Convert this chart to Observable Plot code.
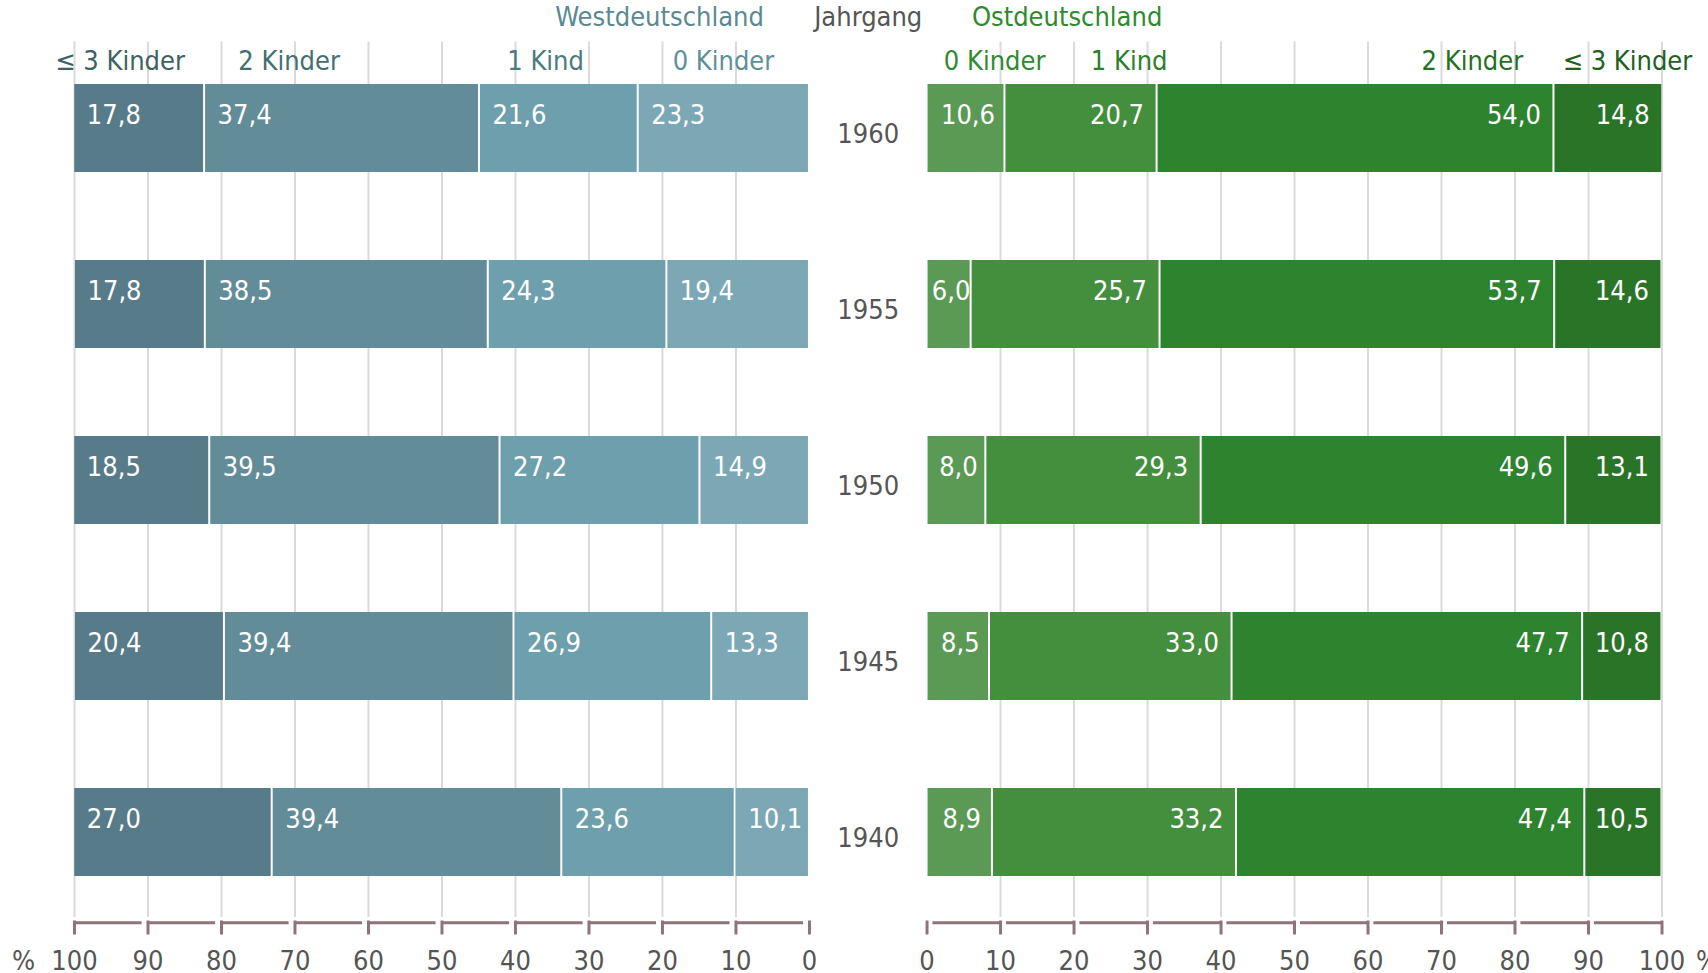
<!DOCTYPE html>
<html><head><meta charset="utf-8">
<script src="https://cdn.jsdelivr.net/npm/d3@7"></script>
<script src="https://cdn.jsdelivr.net/npm/@observablehq/plot@0.6"></script>
<style>
html,body{margin:0;padding:0;background:#fff;overflow:hidden;}
#chart svg{display:block;max-width:none;font-family:"DejaVu Sans Condensed","DejaVu Sans",sans-serif;font-stretch:condensed;}
</style></head><body><div id="chart"></div>
<script>
// ---- data ----
const years = [1960, 1955, 1950, 1945, 1940];
const categories = ["0 Kinder", "1 Kind", "2 Kinder", "≤ 3 Kinder"];
const west0 = [23.3, 19.4, 14.9, 13.3, 10.1];
const west1 = [21.6, 24.3, 27.2, 26.9, 23.6];
const west2 = [37.4, 38.5, 39.5, 39.4, 39.4];
const west3 = [17.8, 17.8, 18.5, 20.4, 27.0];
const east0 = [10.6, 6.0, 8.0, 8.5, 8.9];
const east1 = [20.7, 25.7, 29.3, 33.0, 33.2];
const east2 = [54.0, 53.7, 49.6, 47.7, 47.4];
const east3 = [14.8, 14.6, 13.1, 10.8, 10.5];
const tickValues = [0, 10, 20, 30, 40, 50, 60, 70, 80, 90, 100];
const regionTitles = ["Westdeutschland", "Ostdeutschland"];
const yearTitle = "Jahrgang";
const unitLabel = "%";
const westHeaderAt = [11.7, 35.9, 70.8, 93.8];
const eastHeaderAt = [9.2, 27.5, 74.2, 95.3];

// ---- styles ----
const westColors = ["#7ca8b5", "#6e9fac", "#638c99", "#577b88"];
const eastColors = ["#5a9a55", "#448f3e", "#2e832f", "#2a7428"];
const westHeadColors = ["#5e9098", "#4b7b7c", "#466f71", "#3e6263"];
const eastHeadColors = ["#2f8a2f", "#2a7f2a", "#256f25", "#1f601f"];
const titleColors = ["#5b8893", "#2e8a2e"];
const mauve = "#8f7378";
const gray = "#555555";
const grid = "#dadada";
const FS = 27;
const W = 1708, H = 973, MT = 39, MB = 52.5, ML = 74, MR = 46.5;
const GAP = 16;
const step = (H - MT - MB) / years.length;

const west = [west0, west1, west2, west3];
const east = [east0, east1, east2, east3];
const pos = (region, v) => region === "west" ? -v - GAP : v;
const fmt = v => v.toFixed(1).replace(".", ",");

const rows = [];
for (const [region, series] of [["west", west], ["east", east]]) {
  years.forEach((year, i) => {
    let acc = 0;
    series.forEach((s, k) => {
      rows.push({region, year, k, cat: categories[k], value: s[i], start: acc, end: acc + s[i], key: region + k});
      acc += s[i];
    });
  });
}
const colorDomain = [...categories.map((c, k) => "west" + k), ...categories.map((c, k) => "east" + k)];
const colorRange = [...westColors, ...eastColors];

const gridPos = [];
for (const r of ["west", "east"]) for (const t of tickValues) if (t > 0) gridPos.push(pos(r, t));
const zeroLines = [];
for (const r of ["west", "east"]) for (const y of years) zeroLines.push({region: r, year: y});
const tickPos = [];
for (const r of ["west", "east"]) for (const t of tickValues) tickPos.push({region: r, t, x: pos(r, t)});
const segs = [];
for (const r of ["west", "east"]) for (const t of tickValues) if (t > 0) segs.push({region: r, t});
const segGap = 0.8;

const txt = {fontSize: FS, lineAnchor: "middle"};
const LDY = -13;

const marks = [
  Plot.ruleX(gridPos, {x: d => d, stroke: grid, strokeWidth: 2, insetTop: 2.5, insetBottom: 3.5}),
  Plot.barX(rows, {x1: d => pos(d.region, d.start), x2: d => pos(d.region, d.end), y: "year", fill: "key", insetLeft: 1, insetRight: 1}),
  Plot.ruleX(zeroLines, {x: d => pos(d.region, 0), y: "year", stroke: mauve, strokeWidth: 2.5, insetTop: -(step * 0.25 - 3), insetBottom: -(step * 0.25 - 3)}),
  // value labels
  Plot.text(rows.filter(d => d.region === "west"), {...txt, x: d => pos("west", d.end), y: "year", text: d => fmt(d.value), textAnchor: "start", dx: 13, dy: LDY, fill: "white"}),
  Plot.text(rows.filter(d => d.region === "east" && d.k === 0), {...txt, x: d => pos("east", (d.start + d.end) / 2), y: "year", text: d => fmt(d.value), textAnchor: "middle", dx: 2, dy: LDY, fill: "white"}),
  Plot.text(rows.filter(d => d.region === "east" && d.k > 0), {...txt, x: d => pos("east", d.end), y: "year", text: d => fmt(d.value), textAnchor: "end", dx: -13, dy: LDY, fill: "white"}),
  // year labels
  Plot.text(years, {...txt, x: () => -GAP / 2, y: d => d, text: d => String(d), dy: 6, fill: gray}),
  // titles
  Plot.text([yearTitle], {...txt, x: () => -GAP / 2, frameAnchor: "top", dy: -22, fill: gray}),
  Plot.text([regionTitles[0]], {...txt, x: () => pos("west", 6.2), frameAnchor: "top", dy: -22, textAnchor: "end", fill: titleColors[0]}),
  Plot.text([regionTitles[1]], {...txt, x: () => pos("east", 6.1), frameAnchor: "top", dy: -22, textAnchor: "start", fill: titleColors[1]}),
  // category headers
  ...categories.map((c, k) => Plot.text([c], {...txt, x: () => pos("west", westHeaderAt[k]), frameAnchor: "top", dy: 22, fill: westHeadColors[k]})),
  ...categories.map((c, k) => Plot.text([c], {...txt, x: () => pos("east", eastHeaderAt[k]), frameAnchor: "top", dy: 22, fill: eastHeadColors[k]})),
  // bottom axis brackets
  Plot.axisX(tickPos.map(d => d.x), {anchor: "bottom", label: null, tickSize: 14, tickFormat: () => "", stroke: mauve, strokeWidth: 3}),
  Plot.ruleY(segs, {x1: d => pos(d.region, d.t - 10 + segGap), x2: d => pos(d.region, d.t), y: () => years[years.length - 1], dy: step / 2 + 2, stroke: mauve, strokeWidth: 3}),
  Plot.text(tickPos, {...txt, x: "x", text: d => String(d.t), frameAnchor: "bottom", dy: 40, fill: gray}),
  Plot.text([unitLabel], {...txt, x: () => pos("west", 100), frameAnchor: "bottom", dy: 40, dx: -51, fill: gray}),
  Plot.text([unitLabel], {...txt, x: () => pos("east", 100), frameAnchor: "bottom", dy: 40, dx: 34, textAnchor: "start", fill: gray})
];

const chart = Plot.plot({
  width: W, height: H,
  marginTop: MT, marginBottom: MB, marginLeft: ML, marginRight: MR,
  x: {domain: [-100 - GAP, 100], axis: null},
  y: {domain: years, paddingInner: 0.5, paddingOuter: 0.25, axis: null},
  color: {domain: colorDomain, range: colorRange},
  style: {fontFamily: '"DejaVu Sans Condensed","DejaVu Sans",sans-serif', fontSize: FS + "px", background: "white", overflow: "visible"},
  marks
});
document.getElementById("chart").appendChild(chart);
</script>
</body></html>
